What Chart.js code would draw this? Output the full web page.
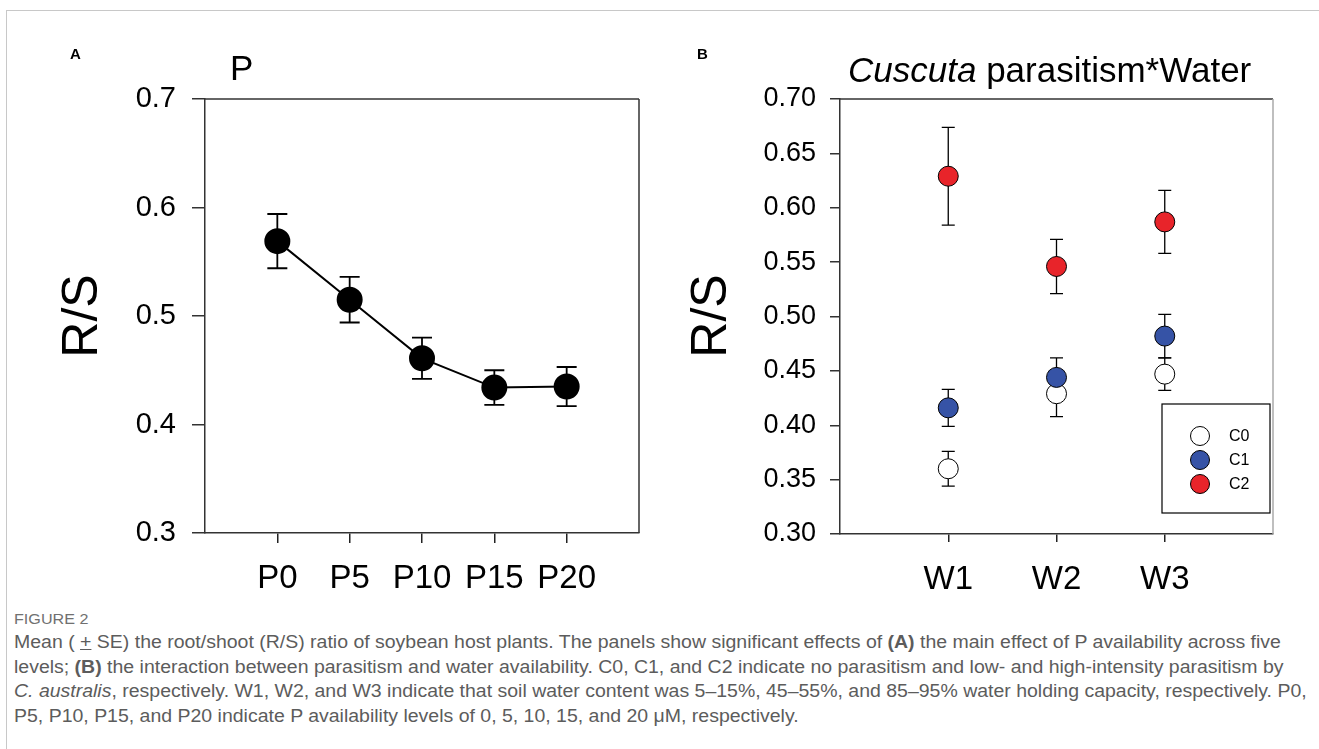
<!DOCTYPE html>
<html>
<head>
<meta charset="utf-8">
<script src="https://cdn.jsdelivr.net/npm/chart.js@4.4.1/dist/chart.umd.min.js"></script>
<style>
  body { margin: 0; background: #fff; width: 1319px; height: 749px; overflow: hidden; position: relative; font-family: "Liberation Sans", Arial, sans-serif; }
  #frame { position: absolute; left: 6px; top: 10px; width: 1320px; height: 745px; border-left: 1px solid #c8c8c8; border-top: 1px solid #c8c8c8; }
  canvas { position: absolute; top: 0; }
  .tag { position: absolute; font: bold 15px "Liberation Sans", Arial, sans-serif; color: #000; }
  .ttl { position: absolute; color: #000; white-space: nowrap; font-size: 35px; font-family: "Liberation Sans", Arial, sans-serif; }
  .ylab { position: absolute; width: 100px; height: 60px; line-height: 60px; text-align: center; font: 50px "Liberation Sans", Arial, sans-serif; color: #000; transform: rotate(-90deg); white-space: nowrap; }
  #cap { position: absolute; left: 14px; top: 611px; color: #5c5c5c; transform: scaleX(1.113); transform-origin: left top; }
  #cap .fig { font-size: 14.5px; color: #707070; height: 19px; }
  #cap .ln { font-size: 17.5px; line-height: 24.5px; white-space: nowrap; }
</style>
</head>
<body>
<div id="frame"></div>
<canvas id="chartA" width="660" height="600" style="left:0;width:660px;height:600px"></canvas>
<canvas id="chartB" width="659" height="600" style="left:660px;width:659px;height:600px"></canvas>

<div class="tag" style="left:70px;top:45px">A</div>
<div class="tag" style="left:697px;top:45px">B</div>
<div class="ttl" style="left:230px;top:48px">P</div>
<div class="ttl" style="left:848px;top:50px"><i>Cuscuta</i> parasitism*Water</div>
<div class="ylab" style="left:31px;top:286px">R/S</div>
<div class="ylab" style="left:660px;top:286px">R/S</div>

<div id="cap">
  <div class="fig">FIGURE 2</div>
  <div class="ln">Mean ( <u>+</u> SE) the root/shoot (R/S) ratio of soybean host plants. The panels show significant effects of <b>(A)</b> the main effect of P availability across five</div>
  <div class="ln">levels; <b>(B)</b> the interaction between parasitism and water availability. C0, C1, and C2 indicate no parasitism and low- and high-intensity parasitism by</div>
  <div class="ln"><i>C. australis</i>, respectively. W1, W2, and W3 indicate that soil water content was 5–15%, 45–55%, and 85–95% water holding capacity, respectively. P0,</div>
  <div class="ln">P5, P10, P15, and P20 indicate P availability levels of 0, 5, 10, 15, and 20 μM, respectively.</div>
</div>

<script>
// panel A: main effect of P
const pLabels = ["P0", "P5", "P10", "P15", "P20"];
const pMean = [0.569, 0.515, 0.461, 0.434, 0.435];
const pSE = [0.025, 0.021, 0.019, 0.016, 0.018];

// panel B: parasitism x water
const waterLabels = ["W1", "W2", "W3"];
const seriesNames = ["C0", "C1", "C2"];
const c0Mean = [0.360, 0.429, 0.447];
const c0SE = [0.016, 0.021, 0.015];
const c1Mean = [0.416, 0.444, 0.482];
const c1SE = [0.017, 0.018, 0.020];
const c2Mean = [0.629, 0.546, 0.587];
const c2SE = [0.045, 0.025, 0.029];

const FONT = "'Liberation Sans', Arial, sans-serif";

// error bars, drawn under the markers
const errorBars = {
  id: "errorBars",
  beforeDatasetsDraw(chart, args, opts) {
    const { ctx, scales } = chart;
    ctx.save();
    ctx.strokeStyle = "#000";
    ctx.lineWidth = opts.lineWidth || 1;
    chart.data.datasets.forEach((ds) => {
      ds.data.forEach((pt, i) => {
        const se = ds.errors[i];
        const x = scales.x.getPixelForValue(pt.x);
        const top = scales.y.getPixelForValue(pt.y + se);
        const bot = scales.y.getPixelForValue(pt.y - se);
        const w = opts.cap;
        ctx.beginPath();
        ctx.moveTo(x, top); ctx.lineTo(x, bot);
        ctx.moveTo(x - w, top); ctx.lineTo(x + w, top);
        ctx.moveTo(x - w, bot); ctx.lineTo(x + w, bot);
        ctx.stroke();
      });
    });
    ctx.restore();
  },
};

// closes the box on top and right
const boxFrame = {
  id: "boxFrame",
  afterDraw(chart, args, opts) {
    const { ctx, chartArea: a } = chart;
    ctx.save();
    ctx.lineWidth = opts.lineWidth || 1;
    ctx.beginPath();
    ctx.moveTo(a.left, a.top); ctx.lineTo(a.right, a.top);
    ctx.strokeStyle = "#333";
    ctx.stroke();
    ctx.beginPath();
    ctx.moveTo(a.right, a.top); ctx.lineTo(a.right, a.bottom);
    ctx.strokeStyle = opts.rightColor || "#333";
    ctx.stroke();
    ctx.restore();
  },
};

// legend box inside panel B
const boxLegend = {
  id: "boxLegend",
  afterDraw(chart) {
    const { ctx, chartArea: a } = chart;
    const left = a.right - 111, top = a.bottom - 130;
    ctx.save();
    ctx.strokeStyle = "#000";
    ctx.lineWidth = 1.2;
    ctx.strokeRect(left, top, 108, 109);
    chart.data.datasets.forEach((ds, i) => {
      const y = top + 32 + i * 24;
      ctx.beginPath();
      ctx.arc(left + 38, y, 9.5, 0, Math.PI * 2);
      ctx.fillStyle = ds.pointBackgroundColor;
      ctx.fill();
      ctx.lineWidth = 1;
      ctx.stroke();
      ctx.fillStyle = "#000";
      ctx.font = "16px " + FONT;
      ctx.textBaseline = "middle";
      ctx.fillText(ds.label, left + 67, y + 1);
    });
    ctx.restore();
  },
};

function catAxis(labels, fontSize, pad, height, tickLen) {
  return {
    type: "linear",
    min: 0,
    max: labels.length + 1,
    afterBuildTicks: (scale) => { scale.ticks = labels.map((_, i) => ({ value: i + 1 })); },
    afterFit: (scale) => { scale.height = height; },
    ticks: {
      callback: (v) => labels[v - 1],
      font: { size: fontSize, family: FONT },
      color: "#000",
      padding: pad,
      maxRotation: 0,
      autoSkip: false,
    },
    grid: { drawOnChartArea: false, drawTicks: true, tickLength: tickLen, color: "#222", lineWidth: 1.5 },
    border: { display: true, color: "#333", width: 1.5 },
  };
}

function valAxis(min, max, step, digits, fontSize, pad, width, tickLen) {
  return {
    min: min,
    max: max,
    afterFit: (scale) => { scale.width = width; },
    ticks: {
      stepSize: step,
      callback: (v) => v.toFixed(digits),
      font: { size: fontSize, family: FONT },
      color: "#000",
      padding: pad,
    },
    grid: { drawOnChartArea: false, drawTicks: true, tickLength: tickLen, color: "#333", lineWidth: 1.5 },
    border: { display: true, color: "#333", width: 1.5 },
  };
}

new Chart(document.getElementById("chartA"), {
  type: "line",
  data: {
    datasets: [{
      label: "P",
      data: pMean.map((m, i) => ({ x: i + 1, y: m })),
      errors: pSE,
      borderColor: "#000",
      borderWidth: 2,
      pointRadius: 12,
      pointBackgroundColor: "#000",
      pointBorderColor: "#000",
      tension: 0,
    }],
  },
  options: {
    responsive: false,
    animation: false,
    layout: { padding: { top: 99, right: 21, left: 0, bottom: 0 } },
    plugins: {
      legend: { display: false },
      tooltip: { enabled: false },
      errorBars: { cap: 10, lineWidth: 1.8 },
      boxFrame: { lineWidth: 1.5 },
    },
    scales: {
      x: catAxis(pLabels, 33, 16, 67, 10),
      y: valAxis(0.3, 0.7, 0.1, 1, 29, 16, 205, 13),
    },
  },
  plugins: [errorBars, boxFrame],
});

const seriesColors = ["#ffffff", "#3653a6", "#e8242a"];
const seriesMeans = [c0Mean, c1Mean, c2Mean];
const seriesErrors = [c0SE, c1SE, c2SE];

new Chart(document.getElementById("chartB"), {
  type: "scatter",
  data: {
    datasets: seriesNames.map((name, k) => ({
      label: name,
      data: seriesMeans[k].map((m, i) => ({ x: i + 1, y: m })),
      errors: seriesErrors[k],
      order: 3 - k,
      pointRadius: 10,
      pointBackgroundColor: seriesColors[k],
      pointBorderColor: "#000",
      pointBorderWidth: 1,
      showLine: false,
    })),
  },
  options: {
    responsive: false,
    animation: false,
    layout: { padding: { top: 99, right: 46, left: 0, bottom: 0 } },
    plugins: {
      legend: { display: false },
      tooltip: { enabled: false },
      errorBars: { cap: 6.5, lineWidth: 1.3 },
      boxFrame: { lineWidth: 1.5, rightColor: "#aaa" },
    },
    scales: {
      x: catAxis(waterLabels, 33, 18, 66, 8),
      y: valAxis(0.3, 0.7, 0.05, 2, 27, 14, 180, 10),
    },
  },
  plugins: [errorBars, boxFrame, boxLegend],
});
</script>
</body>
</html>
